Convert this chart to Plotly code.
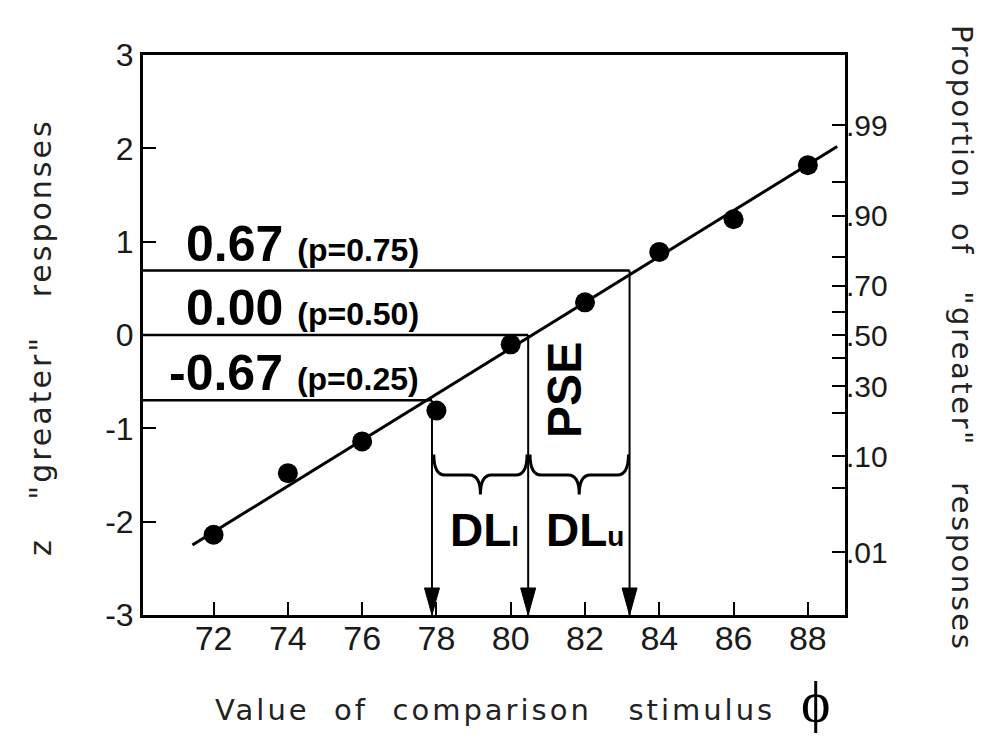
import plotly.graph_objects as go

# ---------------- data ----------------
stim_x = [72, 74, 76, 78, 80, 82, 84, 86, 88]
z_vals = [-2.14, -1.48, -1.14, -0.81, -0.10, 0.35, 0.89, 1.24, 1.82]

fit_x = [71.43, 88.79]
fit_z = [-2.25, 2.02]

level_z = [0.69, 0.0, -0.70]          # horizontal guide lines
level_x_end = [83.2, 80.47, 77.88]    # where they meet the fitted line (arrow positions)
z_labels = ["0.67", "0.00", "-0.67"]
p_labels = ["(p=0.75)", "(p=0.50)", "(p=0.25)"]

x_ticks = [72, 74, 76, 78, 80, 82, 84, 86, 88]
y_ticks = [-3, -2, -1, 0, 1, 2, 3]
y_ticktext = ["-3", "-2", "-1", "0", "1", "2", "3"]

prop_z = [-2.33, -1.64, -1.3, -0.84, -0.55, -0.25, 0.0, 0.25, 0.53, 0.84, 1.28, 1.64, 2.25]
prop_text = [".01", "", ".10", "", ".30", "", ".50", "", ".70", "", ".90", "", ".99"]

XR = [70.1, 89.0]
YR = [-3, 3]

# ---------------- layout geometry ----------------
W, H = 991, 737
ML, MR, MT, MB = 143, 146, 55, 122
PW = W - ML - MR
PH = H - MT - MB
px_x = (XR[1] - XR[0]) / PW   # data units per pixel
px_y = (YR[1] - YR[0]) / PH

fig = go.Figure()

fig.add_trace(go.Scatter(x=fit_x, y=fit_z, mode="lines",
                         line=dict(color="black", width=3),
                         hoverinfo="skip", showlegend=False))
fig.add_trace(go.Scatter(x=stim_x, y=z_vals, mode="markers",
                         marker=dict(color="black", size=20),
                         showlegend=False))
fig.add_trace(go.Scatter(x=[80], y=[0], yaxis="y2", mode="markers",
                         marker=dict(opacity=0), hoverinfo="skip", showlegend=False))

shapes = []
annotations = []
font_b = "Liberation Sans, Arial, sans-serif"

for zl, xe, zt, pt in zip(level_z, level_x_end, z_labels, p_labels):
    shapes.append(dict(type="line", xref="x", yref="y", x0=XR[0], x1=xe, y0=zl, y1=zl,
                       line=dict(color="black", width=2.5)))
    shapes.append(dict(type="line", xref="x", yref="y", x0=xe, x1=xe, y0=zl, y1=YR[0],
                       line=dict(color="black", width=2)))
    hw = 7.5 * px_x
    hl = 27 * px_y
    shapes.append(dict(type="path", xref="x", yref="y",
                       path=f"M {xe-hw},{YR[0]+hl} L {xe+hw},{YR[0]+hl} L {xe},{YR[0]} Z",
                       fillcolor="black", line=dict(color="black", width=1)))
    annotations.append(dict(
        x=77.58, y=zl, xref="x", yref="y", xanchor="right", yanchor="bottom",
        yshift=-3, showarrow=False,
        text=f"<b>{zt}</b> <b><span style='font-size:32px'>{pt}</span></b>",
        font=dict(family=font_b, size=50, color="black")))

def brace(x0, x1, ztop, zmid, ztip):
    xm = (x0 + x1) / 2
    d = 0.3
    return (f"M {x0},{ztop} Q {x0},{zmid} {x0+d},{zmid} L {xm-d},{zmid} "
            f"Q {xm},{zmid} {xm},{ztip} Q {xm},{zmid} {xm+d},{zmid} "
            f"L {x1-d},{zmid} Q {x1},{zmid} {x1},{ztop}")

bx = sorted(level_x_end)
for a, b in [(bx[0] + 0.05, bx[1] - 0.03), (bx[1] + 0.05, bx[2] - 0.03)]:
    shapes.append(dict(type="path", xref="x", yref="y",
                       path=brace(a, b, -1.28, -1.50, -1.71),
                       line=dict(color="black", width=3)))

annotations.append(dict(x=81.43, y=-0.59, xref="x", yref="y", showarrow=False,
                        text="<b>PSE</b>", textangle=-90,
                        font=dict(family=font_b, size=48, color="black")))
annotations.append(dict(x=79.30, y=-2.09, xref="x", yref="y", showarrow=False,
                        text="<b>DL<span style='font-size:28px'>l</span></b>",
                        font=dict(family=font_b, size=46, color="black")))
annotations.append(dict(x=82.0, y=-2.09, xref="x", yref="y", showarrow=False,
                        text="<b>DL<span style='font-size:28px'>u</span></b>",
                        font=dict(family=font_b, size=46, color="black")))

title_font = "DejaVu Sans, sans-serif"
LS = "letter-spacing:3px"
annotations.append(dict(x=(495 - ML) / PW, y=(H - MB - 710) / PH, xref="paper", yref="paper",
                        showarrow=False, xanchor="center", yanchor="middle",
                        text=f"<span style='{LS}'>Value&nbsp;&nbsp;of&nbsp;&nbsp;comparison&nbsp;&nbsp;&nbsp;stimulus</span>",
                        font=dict(family=title_font, size=29, color="#222")))
annotations.append(dict(x=(815 - ML) / PW, y=(H - MB - 702) / PH, xref="paper", yref="paper",
                        showarrow=False, xanchor="center", yanchor="middle",
                        text="ϕ", font=dict(family="Liberation Serif, serif", size=56, color="black")))
annotations.append(dict(x=(40 - ML) / PW, y=(H - MB - 337) / PH, xref="paper", yref="paper",
                        showarrow=False, textangle=-90, xanchor="center", yanchor="middle",
                        text=f"<span style='{LS}'>z&nbsp;&nbsp;&nbsp;\"greater\"&nbsp;&nbsp;&nbsp;responses</span>",
                        font=dict(family=title_font, size=30, color="#222")))
annotations.append(dict(x=(962 - ML) / PW, y=(H - MB - 338) / PH, xref="paper", yref="paper",
                        showarrow=False, textangle=90, xanchor="center", yanchor="middle",
                        text="<span style='letter-spacing:2.5px'>Proportion&nbsp;&nbsp;of&nbsp;&nbsp;&nbsp;\"greater\"&nbsp;&nbsp;&nbsp;responses</span>",
                        font=dict(family=title_font, size=29, color="#222")))

fig.update_layout(
    width=W, height=H, autosize=False,
    margin=dict(l=ML, r=MR, t=MT, b=MB),
    plot_bgcolor="white", paper_bgcolor="white",
    shapes=shapes, annotations=annotations, showlegend=False,
    xaxis=dict(range=XR, tickvals=x_ticks, ticks="inside", ticklen=13, tickwidth=2,
               tickcolor="black", showline=True, linewidth=3, linecolor="black",
               mirror=True, showgrid=False, zeroline=False, ticklabelstandoff=-9,
               tickfont=dict(family=font_b, size=34, color="#1a1a1a")),
    yaxis=dict(range=YR, tickvals=y_ticks, ticktext=y_ticktext, ticks="inside",
               ticklen=13, tickwidth=2, tickcolor="black", showline=True, linewidth=3,
               linecolor="black", mirror=True, showgrid=False, zeroline=False,
               tickfont=dict(family=font_b, size=32, color="#1a1a1a")),
    yaxis2=dict(range=YR, overlaying="y", side="right", tickvals=prop_z, ticktext=prop_text,
                ticks="inside", ticklen=13, tickwidth=2, tickcolor="black",
                showline=False, showgrid=False, zeroline=False,
                tickfont=dict(family=font_b, size=30, color="#1a1a1a")),
)

fig.write_html("out.html", config={"displayModeBar": False},
               post_script="document.body.style.margin='0px';document.body.style.overflow='hidden';")
